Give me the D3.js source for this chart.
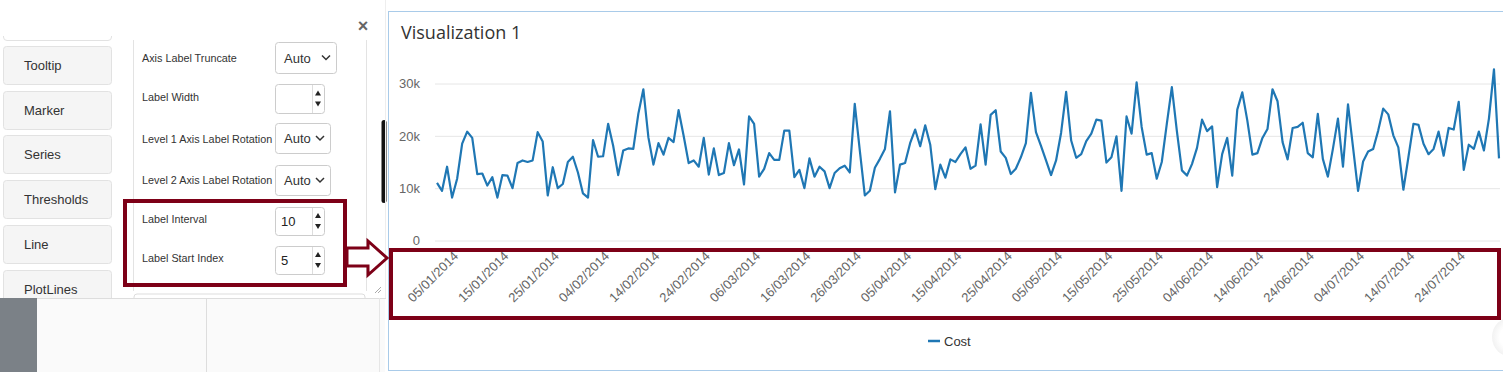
<!DOCTYPE html>
<html><head><meta charset="utf-8">
<script src="https://cdn.jsdelivr.net/npm/d3@7"></script>
<style>
html,body{margin:0;padding:0;background:#fff;overflow:hidden}
svg{display:block}
</style></head>
<body>
<svg id="c" width="1503" height="383"></svg>
<script>
// ---- data ----
const startDate = "2014-01-01";
const costValues = [
11.0,9.5,14.1,8.2,11.8,18.5,20.8,19.6,12.7,12.8,10.5,12.1,8.2,12.5,12.4,10.0,14.8,15.3,15.0,15.3,
20.7,18.9,8.6,14.0,10.0,10.8,15.0,16.0,13.0,9.0,8.2,19.2,16.0,16.1,22.3,18.1,12.5,17.2,17.6,17.5,
24.2,28.9,19.7,14.5,18.6,16.4,19.6,18.8,24.9,20.0,14.8,15.3,14.1,19.6,12.6,17.6,12.5,12.9,18.6,14.4,
17.4,10.7,23.7,22.3,12.2,13.7,16.7,15.4,15.4,21.0,21.0,12.1,13.5,10.0,15.7,12.2,14.1,13.2,10.0,12.9,
13.8,14.3,13.0,26.1,17.2,8.6,9.5,13.9,15.6,17.5,24.7,9.2,14.5,14.8,18.6,21.2,18.0,22.0,18.3,9.8,
14.5,12.0,15.5,15.0,16.5,17.8,13.7,14.3,22.2,14.5,24.0,24.9,17.0,15.8,12.7,13.7,15.9,18.6,28.2,20.7,
18.1,15.3,12.5,15.3,20.6,28.4,19.1,15.8,16.5,19.0,20.4,23.1,22.9,14.9,15.9,19.9,9.5,23.7,20.4,30.2,
21.7,16.4,16.7,11.8,15.0,22.3,29.3,20.9,13.4,12.4,14.6,17.7,23.1,20.9,21.8,10.2,16.5,19.6,12.4,25.0,
28.3,22.9,16.4,16.7,19.6,21.3,28.9,26.6,18.8,15.5,21.5,21.7,22.5,16.7,15.9,24.2,15.6,12.2,17.5,23.3,
14.1,26.0,17.8,9.5,15.1,17.0,17.5,21.0,25.2,24.1,20.1,17.8,9.7,15.9,22.3,22.1,18.5,16.5,17.5,20.8,
16.2,21.5,21.2,26.5,13.5,18.3,17.5,20.8,17.2,23.3,32.7,15.7
].map(v => v * 1000);
const labelStartIndex = 5;   // 1-based
const labelInterval = 10;
const yTicks = [0, 10000, 20000, 30000];
const seriesName = "Cost";
const sideButtons = ["Tooltip", "Marker", "Series", "Thresholds", "Line", "PlotLines"];
const settingRows = [
  {label: "Axis Label Truncate", type: "select", value: "Auto"},
  {label: "Label Width", type: "number", value: ""},
  {label: "Level 1 Axis Label Rotation", type: "select", value: "Auto"},
  {label: "Level 2 Axis Label Rotation", type: "select", value: "Auto"},
  {label: "Label Interval", type: "number", value: "10"},
  {label: "Label Start Index", type: "number", value: "5"}
];

const svg = d3.select("#c");
const RED = "#7d0017";
const LINE = "#1f77b4";
const fmtDate = d3.timeFormat("%d/%m/%Y");
const parse = d3.timeParse("%Y-%m-%d");
const dates = costValues.map((v, i) => d3.timeDay.offset(parse(startDate), i));

// ---- left UI panel ----
const ui = svg.append("g").attr("font-family", "Liberation Sans, Arial, sans-serif");
// previous button (scrolled out, only its bottom edge visible)
ui.append("path").attr("d", "M3.5,36 L3.5,37 Q3.5,40.5 7,40.5 L108,40.5 Q111.5,40.5 111.5,37 L111.5,36")
  .attr("fill", "none").attr("stroke", "#e2e2e2");
const btnY = [46, 91, 135, 180, 225, 270];
sideButtons.forEach((b, i) => {
  ui.append("rect").attr("x", 3.5).attr("y", btnY[i] + 0.5).attr("width", 108).attr("height", 38).attr("rx", 3)
    .attr("fill", "#f5f5f5").attr("stroke", "#e2e2e2");
  ui.append("text").attr("x", 24).attr("y", btnY[i] + 24).attr("font-size", 13).attr("fill", "#333").text(b);
});
// settings panel borders
ui.append("line").attr("x1", 133.5).attr("x2", 133.5).attr("y1", 40).attr("y2", 291).attr("stroke", "#e3e3e3");
ui.append("line").attr("x1", 366.5).attr("x2", 366.5).attr("y1", 40).attr("y2", 291).attr("stroke", "#e3e3e3");
ui.append("path").attr("d", "M134,298 L134,297 Q134,294 137,294 L362,294 Q365,294 365,297 L365,298")
  .attr("fill", "none").attr("stroke", "#ddd");
// resize grip
ui.append("path").attr("d", "M375,293 L381,287 M378,293 L381,290").attr("stroke", "#aaa");
// close X
ui.append("text").attr("x", 363).attr("y", 32).attr("text-anchor", "middle").attr("font-size", 18)
  .attr("font-weight", "bold").attr("fill", "#666").text("\u00d7");
// scrollbar
ui.append("rect").attr("x", 381.5).attr("y", 120).attr("width", 5).attr("height", 83).attr("rx", 2.5).attr("fill", "#111");
ui.append("line").attr("x1", 385.5).attr("x2", 385.5).attr("y1", 0).attr("y2", 298).attr("stroke", "#eee");

const rowY = [58, 97, 139, 180, 219, 258];
const boxDims = [
  {y: 42, h: 31, w: 61}, {y: 84, h: 29, w: 49}, {y: 123, h: 30, w: 55},
  {y: 165, h: 30, w: 55}, {y: 207, h: 28, w: 49}, {y: 246, h: 28, w: 49}
];
settingRows.forEach((r, i) => {
  ui.append("text").attr("x", 142).attr("y", rowY[i] + 4).attr("font-size", 10.8).attr("fill", "#333").text(r.label);
  const bd = boxDims[i];
  ui.append("rect").attr("x", 275.5).attr("y", bd.y + 0.5).attr("width", bd.w).attr("height", bd.h).attr("rx", 3)
    .attr("fill", "#fff").attr("stroke", "#ccc");
  if (r.type === "select") {
    ui.append("text").attr("x", 284).attr("y", bd.y + bd.h / 2 + 5).attr("font-size", 13).attr("fill", "#333").text(r.value);
    const cx = 275 + bd.w - 10, cy = bd.y + bd.h / 2;
    ui.append("path").attr("d", `M${cx - 4},${cy - 2} L${cx},${cy + 2} L${cx + 4},${cy - 2}`)
      .attr("fill", "none").attr("stroke", "#333").attr("stroke-width", 1.5);
  } else {
    ui.append("text").attr("x", 281).attr("y", bd.y + bd.h / 2 + 5).attr("font-size", 13).attr("fill", "#222").text(r.value);
    ui.append("line").attr("x1", 312.5).attr("x2", 312.5).attr("y1", bd.y + 1).attr("y2", bd.y + bd.h).attr("stroke", "#ddd");
    const cx = 318, cy = bd.y + bd.h / 2;
    ui.append("path").attr("d", `M${cx - 3},${cy - 3} L${cx + 3},${cy - 3} L${cx},${cy - 8} Z`).attr("fill", "#222");
    ui.append("path").attr("d", `M${cx - 3},${cy + 3} L${cx + 3},${cy + 3} L${cx},${cy + 8} Z`).attr("fill", "#222");
  }
});
// bottom area
ui.append("rect").attr("x", 0).attr("y", 298).attr("width", 37).attr("height", 74).attr("fill", "#7b8187");
ui.append("rect").attr("x", 37).attr("y", 298).attr("width", 348).attr("height", 74).attr("fill", "#fafafa");
ui.append("line").attr("x1", 37).attr("x2", 386).attr("y1", 298.5).attr("y2", 298.5).attr("stroke", "#ddd");
ui.append("line").attr("x1", 206.5).attr("x2", 206.5).attr("y1", 298).attr("y2", 372).attr("stroke", "#ddd");
ui.append("line").attr("x1", 379.5).attr("x2", 379.5).attr("y1", 298).attr("y2", 372).attr("stroke", "#e6e6e6");

// ---- chart panel ----
const cp = svg.append("g").attr("font-family", "Liberation Sans, Arial, sans-serif");
cp.append("rect").attr("x", 388.5).attr("y", 11.5).attr("width", 1120).attr("height", 359).attr("fill", "#fff")
  .attr("stroke", "#a9cbe9");
cp.append("text").attr("x", 401).attr("y", 39).attr("font-family", "Open Sans, sans-serif").attr("font-size", 18)
  .attr("fill", "#333").text("Visualization 1");

const x = d3.scaleLinear().domain([0, costValues.length - 1]).range([437, 1499]);
const y = d3.scaleLinear().domain([0, 30000]).range([240.5, 83.5]);

const yAxis = d3.axisLeft(y).tickValues(yTicks).tickSize(-(1500 - 435))
  .tickFormat(d => d === 0 ? "0" : d3.format("~s")(d));
const gy = cp.append("g").attr("transform", "translate(435,0)").call(yAxis);
gy.select(".domain").remove();
gy.selectAll(".tick line").attr("stroke", "#e6e6e6");
gy.selectAll(".tick text").attr("x", -15).attr("dy", "0.32em").attr("font-size", 13).attr("fill", "#666")
  .attr("font-family", "Liberation Sans, Arial, sans-serif");

const labelIdx = d3.range(labelStartIndex - 1, costValues.length, labelInterval);
const gx = cp.append("g");
gx.selectAll("text").data(labelIdx).join("text")
  .attr("transform", d => `translate(${x(d) + 2},${257}) rotate(-45)`)
  .attr("text-anchor", "end").attr("font-size", 13).attr("fill", "#666")
  .text(d => fmtDate(dates[d]));

const line = d3.line().x((d, i) => x(i)).y(d => y(d));
cp.append("path").datum(costValues).attr("d", line).attr("fill", "none").attr("stroke", LINE)
  .attr("stroke-width", 2.2).attr("stroke-linejoin", "round");

// legend
cp.append("line").attr("x1", 928).attr("x2", 940).attr("y1", 341).attr("y2", 341).attr("stroke", LINE).attr("stroke-width", 2.5);
cp.append("text").attr("x", 944).attr("y", 346).attr("font-size", 13).attr("fill", "#333").text(seriesName);

// faint round button at lower right
const defs = svg.append("defs");
const rg = defs.append("radialGradient").attr("id", "rg");
rg.append("stop").attr("offset", "0.6").attr("stop-color", "#fff");
rg.append("stop").attr("offset", "1").attr("stop-color", "#f2f2f2");
cp.append("circle").attr("cx", 1512).attr("cy", 337).attr("r", 20).attr("fill", "url(#rg)");

// ---- annotations ----
svg.append("rect").attr("x", 125).attr("y", 201).attr("width", 220).attr("height", 84)
  .attr("fill", "none").attr("stroke", RED).attr("stroke-width", 4);
svg.append("rect").attr("x", 391).attr("y", 250).attr("width", 1108).attr("height", 68)
  .attr("fill", "none").attr("stroke", RED).attr("stroke-width", 4);
svg.append("path").attr("d", "M347,248 L368,248 L368,241 L387,258 L368,275 L368,266 L347,266 Z")
  .attr("fill", "#fff").attr("stroke", RED).attr("stroke-width", 3).attr("stroke-linejoin", "miter");
</script>
</body></html>
